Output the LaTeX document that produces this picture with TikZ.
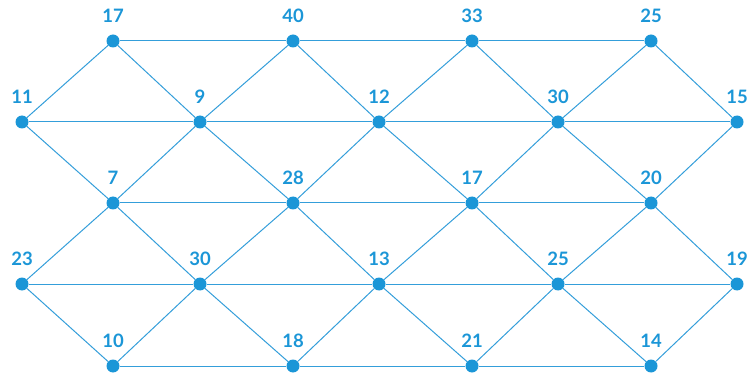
\documentclass[tikz,border=0pt]{standalone}
\usepackage{fontspec}
\setsansfont{Lato}
\definecolor{netblue}{RGB}{27,150,215}
\definecolor{edgeblue}{RGB}{52,158,218}
\tikzset{
  vert/.style={circle,fill=netblue,inner sep=0pt,minimum size=13pt},
  lbl/.style={above=8pt,text=netblue,font=\sffamily\bfseries\fontsize{18.5}{21}\selectfont},
  edge/.style={draw=edgeblue,line width=1pt}
}
\begin{document}
\begin{tikzpicture}[x=1pt,y=-1pt]
  \useasboundingbox (0,0) rectangle (747,374);

  % rows of vertices
  \foreach \n/\x/\v in {1/113/17,2/293/40,3/472/33,4/651/25}
    \node[vert,label={[lbl]:\v}] (a\n) at (\x,41) {};
  \foreach \n/\x/\v in {1/22/11,2/200/9,3/379/12,4/558/30,5/737/15}
    \node[vert,label={[lbl]:\v}] (b\n) at (\x,122) {};
  \foreach \n/\x/\v in {1/113/7,2/293/28,3/472/17,4/651/20}
    \node[vert,label={[lbl]:\v}] (c\n) at (\x,203) {};
  \foreach \n/\x/\v in {1/22/23,2/200/30,3/379/13,4/558/25,5/737/19}
    \node[vert,label={[lbl]:\v}] (d\n) at (\x,284) {};
  \foreach \n/\x/\v in {1/113/10,2/293/18,3/472/21,4/651/14}
    \node[vert,label={[lbl]:\v}] (e\n) at (\x,366) {};

  % horizontal edges
  \foreach \r in {a,c,e}
    \foreach \i/\j in {1/2,2/3,3/4}
      \draw[edge] (\r\i) -- (\r\j);
  \foreach \r in {b,d}
    \foreach \i/\j in {1/2,2/3,3/4,4/5}
      \draw[edge] (\r\i) -- (\r\j);

  % diagonal edges
  \foreach \u/\l in {a/b,c/b,c/d,e/d}
    \foreach \i in {1,2,3,4}{
      \pgfmathtruncatemacro{\k}{\i+1}
      \draw[edge] (\u\i) -- (\l\i);
      \draw[edge] (\u\i) -- (\l\k);
    }
\end{tikzpicture}
\end{document}
